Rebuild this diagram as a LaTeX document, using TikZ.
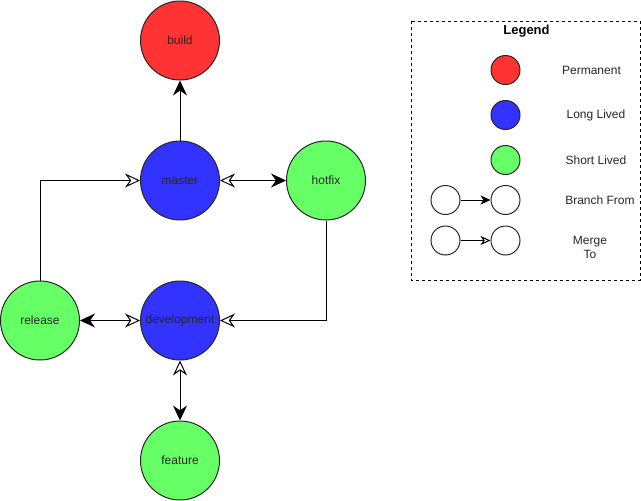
\documentclass[tikz,border=0pt]{standalone}
\usepackage{fontspec}
\setmainfont{Liberation Sans}
\usetikzlibrary{arrows.meta,positioning}

\definecolor{permred}{HTML}{FF3333}
\definecolor{longblue}{HTML}{3333FF}
\definecolor{shortgreen}{HTML}{66FF66}

\tikzset{
  branch/.style={circle,draw=black!85,line width=1pt,minimum size=79pt,inner sep=0pt,
    font=\fontsize{12}{14}\selectfont,text=black!85},
  keydot/.style={circle,draw=black!85,line width=1pt,minimum size=29pt,inner sep=0pt},
  keytext/.style={font=\fontsize{12}{14}\selectfont,text=black!85,align=center},
  tipfrom/.tip={Stealth[length=15pt,width=14pt,inset=5pt]},
  tipmerge/.tip={Stealth[open,length=15pt,width=14pt,inset=5pt]},
  smallfrom/.tip={Stealth[length=10pt,width=9pt,inset=3pt]},
  smallmerge/.tip={Stealth[open,length=10pt,width=9pt,inset=3pt]},
}

\begin{document}
\begin{tikzpicture}[x=1pt,y=-1pt,line width=1pt,node distance=60pt]

\useasboundingbox (0,0) rectangle (641,501);

% branches
\node[branch,fill=permred] (build) at (180,40.5) {build};
\node[branch,fill=longblue,below=of build] (master) {master};
\node[branch,fill=shortgreen,right=66pt of master] (hotfix) {hotfix};
\node[branch,fill=longblue,below=of master] (development) {development};
\node[branch,fill=shortgreen,left=of development] (release) {release};
\node[branch,fill=shortgreen,below=of development] (feature) {feature};

% connectors
\draw[-tipfrom] (master) -- (build);
\draw[tipmerge-tipfrom] (master) -- (hotfix);
\draw[-tipmerge] (hotfix.south) |- (development.east);
\draw[-tipmerge] (release.north) |- (master.west);
\draw[tipfrom-tipmerge] (release) -- (development);
\draw[tipmerge-tipfrom] (development) -- (feature);

% legend
\draw[dash pattern=on 3pt off 3pt] (411,21) rectangle (640,280);
\node[font=\bfseries\fontsize{13}{15}\selectfont] (legend) at (526.5,31.5) {Legend};

\node[keydot,fill=permred] (kperm) at (505.5,70) {};
\node[keydot,fill=longblue] (klong) at (505.5,115) {};
\node[keydot,fill=shortgreen] (kshort) at (505.5,160) {};
\node[keydot] (kbranchA) at (445.5,200) {};
\node[keydot] (kbranchB) at (505.5,200) {};
\node[keydot] (kmergeA) at (445.5,240.5) {};
\node[keydot] (kmergeB) at (505.5,240.5) {};

\draw[-smallfrom] (kbranchA) -- (kbranchB);
\draw[-smallmerge] (kmergeA) -- (kmergeB);

\node[keytext] (tperm) at (591.5,70) {Permanent};
\node[keytext] (tlong) at (596,115) {Long Lived};
\node[keytext] (tshort) at (596,160) {Short Lived};
\node[keytext] (tbranch) at (600,200) {Branch From};
\node[keytext,font=\fontsize{12}{13.5}\selectfont] (tmerge) at (590,247.5) {Merge\\To};

\end{tikzpicture}
\end{document}
